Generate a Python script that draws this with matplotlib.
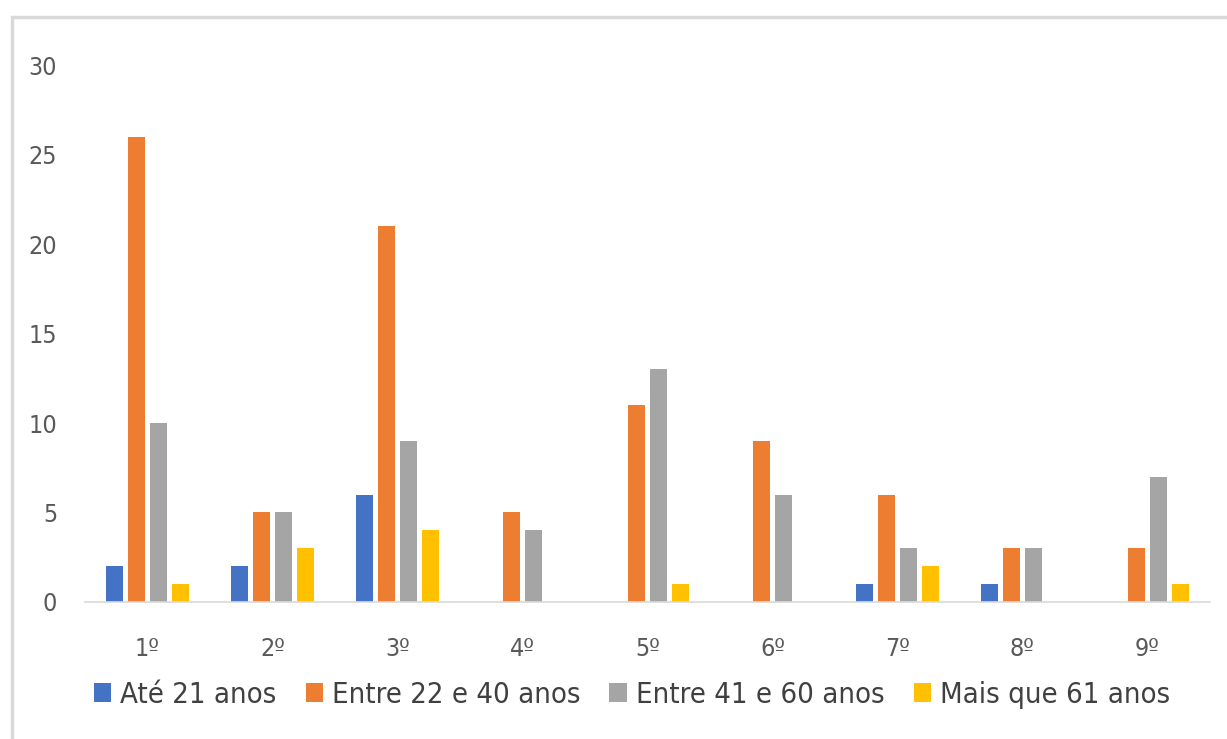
import matplotlib.pyplot as plt
from matplotlib.patches import Rectangle
import numpy as np

# Data
periodos = ['1º', '2º', '3º', '4º', '5º', '6º', '7º', '8º', '9º']
ate_21 = [2, 2, 6, 0, 0, 0, 1, 1, 0]
entre_22_40 = [26, 5, 21, 5, 11, 9, 6, 3, 3]
entre_41_60 = [10, 5, 9, 4, 13, 6, 3, 3, 7]
mais_61 = [1, 3, 4, 0, 1, 0, 2, 0, 1]

series = [
    ('Até 21 anos', ate_21, '#4472C4'),
    ('Entre 22 e 40 anos', entre_22_40, '#ED7D31'),
    ('Entre 41 e 60 anos', entre_41_60, '#A5A5A5'),
    ('Mais que 61 anos', mais_61, '#FFC000'),
]

plt.rcParams['font.family'] = ['DejaVu Sans']
plt.rcParams['font.stretch'] = 'condensed'

fig = plt.figure(figsize=(12.27, 7.39), dpi=100)
ax = fig.add_axes([0.0693, 0.1854, 0.9167, 0.7266])

x = np.arange(1, len(periodos) + 1)
pitch = 0.176
width = 0.138
for i, (label, vals, color) in enumerate(series):
    ax.bar(x + (i - 1.5) * pitch, vals, width=width, color=color, label=label, zorder=2)

ax.set_xlim(0.5, 9.5)
ax.set_ylim(0, 30)
ax.set_yticks(range(0, 31, 5))
ax.set_xticks(x)
ax.set_xticklabels(periodos)
for s in ['top', 'right', 'left']:
    ax.spines[s].set_visible(False)
ax.spines['bottom'].set_color('#D9D9D9')
ax.spines['bottom'].set_linewidth(1.2)
ax.tick_params(axis='both', length=0, labelsize=18, labelcolor='#595959')
ax.tick_params(axis='y', pad=20)
ax.tick_params(axis='x', pad=25)

ax.legend(loc='center', bbox_to_anchor=(0.515, 0.06), bbox_transform=fig.transFigure,
          ncol=4, frameon=False, fontsize=21, handlelength=0.6, handleheight=0.6,
          handletextpad=0.3, columnspacing=1.0, labelcolor='#404040')

# chart border (partially cropped)
fig.patches.append(Rectangle((0.0098, -0.1), 1.2, 1.077, transform=fig.transFigure,
                             fill=False, edgecolor='#D9D9D9', linewidth=2.5))

fig.savefig('out.png', dpi=100)
